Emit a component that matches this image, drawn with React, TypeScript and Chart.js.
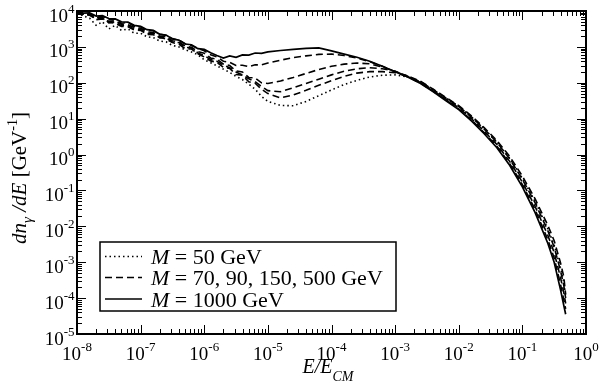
import React, { useEffect, useRef } from "react";
import { Chart, registerables } from "chart.js";

Chart.register(...registerables);

// E / E_CM sample positions
const energyFraction = [
  1e-8, 1.26e-8, 1.58e-8, 2e-8, 2.51e-8, 3.16e-8, 3.98e-8, 5.01e-8, 6.31e-8, 7.94e-8,
  1e-7, 1.26e-7, 1.58e-7, 2e-7, 2.51e-7, 3.16e-7, 3.98e-7, 5.01e-7, 6.31e-7, 7.94e-7,
  1e-6, 1.26e-6, 1.58e-6, 2e-6, 2.51e-6, 3.16e-6, 3.98e-6, 5.01e-6, 6.31e-6, 7.94e-6,
  1e-5, 1.58e-5, 2.51e-5, 3.98e-5, 6.31e-5,
  1e-4, 1.58e-4, 2.51e-4, 3.98e-4, 6.31e-4,
  1e-3, 1.58e-3, 2.51e-3, 3.98e-3, 6.31e-3,
  1e-2, 1.58e-2, 2.51e-2, 3.98e-2, 6.31e-2,
  0.1, 0.158, 0.251, 0.316, 0.398, 0.447, 0.479,
];

// dN_gamma/dE [GeV^-1]
const m50 = [
  8910, 7240, 6310, 3980, 5010, 3160, 3980, 2880, 3160, 2400,
  2400, 1910, 1820, 1450, 1380, 1100, 1000, 832, 724, 603,
  437, 363, 295, 240, 195, 151, 123, 91.2, 66.1, 41.7,
  30.2, 23.4, 22.9, 30.2, 43.7,
  63.1, 89.1, 117, 145, 162,
  166, 145, 105, 63.1, 37.2,
  21.9, 11.2, 5.25, 2.24, 0.794,
  0.219, 0.0501, 0.00851, 0.00302, 6.92e-4, 2.82e-4, 1.12e-4,
];
const m70 = [
  9550, 7590, 7940, 5750, 6030, 4900, 4570, 3720, 3630, 2950,
  2880, 2240, 2190, 1860, 1660, 1320, 1200, 891, 871, 646,
  525, 407, 372, 269, 251, 170, 162, 107, 97.7, 66.1,
  50.1, 38.0, 45.7, 61.7, 85.1,
  115, 151, 186, 204, 204,
  191, 155, 110, 66.1, 38.9,
  22.9, 12.0, 5.62, 2.45, 0.891,
  0.251, 0.0589, 0.0107, 0.00398, 9.55e-4, 3.98e-4, 1.26e-4,
];
const m90 = [
  9330, 8320, 7590, 6170, 6310, 4680, 5010, 3890, 3980, 3090,
  3090, 2340, 2400, 1780, 1820, 1350, 1320, 977, 933, 676,
  575, 447, 398, 309, 263, 200, 166, 129, 107, 79.4,
  60.3, 56.2, 72.4, 95.5, 126,
  166, 209, 245, 263, 245,
  209, 151, 107, 64.6, 37.2,
  21.9, 11.2, 5.13, 2.19, 0.759,
  0.204, 0.0457, 0.00759, 0.00263, 5.75e-4, 2.29e-4, 1.0e-4,
];
const m150 = [
  9770, 8130, 8510, 6460, 6610, 5130, 5370, 4270, 4170, 3470,
  3310, 2630, 2510, 1990, 1910, 1480, 1380, 1050, 977, 741,
  661, 490, 457, 331, 302, 214, 200, 141, 135, 100,
  95.5, 112, 141, 182, 234,
  288, 331, 355, 339, 275,
  209, 148, 102, 60.3, 34.7,
  20.0, 10.0, 4.47, 1.91, 0.646,
  0.170, 0.0363, 0.00562, 0.00186, 3.72e-4, 1.45e-4, 7.08e-5,
];
const m500 = [
  9550, 8320, 8130, 6920, 7080, 5750, 5890, 4570, 4790, 3720,
  3630, 2880, 2820, 2290, 2090, 1700, 1550, 1230, 1100, 912,
  776, 603, 525, 400, 372, 302, 309, 280, 316, 316,
  355, 427, 501, 562, 617,
  631, 575, 490, 389, 288,
  204, 145, 97.7, 57.5, 33.1,
  18.6, 9.33, 4.07, 1.70, 0.562,
  0.145, 0.0295, 0.00427, 0.00132, 2.4e-4, 9.12e-5, 5.01e-5,
];
const m1000 = [
  10000, 8700, 8910, 7240, 7410, 6170, 6030, 5010, 4900, 3980,
  3720, 3020, 2880, 2240, 2140, 1660, 1550, 1200, 1150, 891,
  851, 690, 575, 490, 560, 510, 600, 590, 676, 661,
  724, 794, 851, 912, 933,
  776, 631, 513, 398, 288,
  204, 145, 95.5, 56.2, 31.6,
  17.8, 8.71, 3.80, 1.55, 0.501,
  0.126, 0.0245, 0.00339, 0.001, 1.7e-4, 6.31e-5, 3.55e-5,
];

const xMajorTicks = [1e-8, 1e-7, 1e-6, 1e-5, 1e-4, 1e-3, 1e-2, 1e-1, 1];
const xTickExponents = ["-8", "-7", "-6", "-5", "-4", "-3", "-2", "-1", "0"];
const yMajorTicks = [1e4, 1e3, 1e2, 1e1, 1, 1e-1, 1e-2, 1e-3, 1e-4, 1e-5];
const yTickExponents = ["4", "3", "2", "1", "0", "-1", "-2", "-3", "-4", "-5"];
const legendLabels = ["50 GeV", "70, 90, 150, 500 GeV", "1000 GeV"];

const DOTTED = [1.5, 3];
const DASHED = [7, 4];
const SOLID: number[] = [];

const SERIF = '"Liberation Serif", "Times New Roman", Times, serif';
const fnt = (size: number, italic = false) =>
  `${italic ? "italic " : ""}${size}px ${SERIF}`;

type Seg = { t: string; font: string; dy?: number };

function measureSegs(ctx: CanvasRenderingContext2D, segs: Seg[]) {
  let w = 0;
  for (const s of segs) {
    ctx.font = s.font;
    w += ctx.measureText(s.t).width;
  }
  return w;
}

function drawSegs(ctx: CanvasRenderingContext2D, segs: Seg[], x: number, y: number) {
  let cx = x;
  for (const s of segs) {
    ctx.font = s.font;
    ctx.fillText(s.t, cx, y + (s.dy || 0));
    cx += ctx.measureText(s.t).width;
  }
}

const decorations = {
  id: "decorations",
  afterDraw(chart: any) {
    const ctx: CanvasRenderingContext2D = chart.ctx;
    const a = chart.chartArea;
    const xs = chart.scales.x;
    const ys = chart.scales.y;
    ctx.save();
    ctx.fillStyle = "#000";
    ctx.strokeStyle = "#000";
    ctx.textAlign = "left";
    ctx.textBaseline = "alphabetic";
    ctx.setLineDash([]);

    // inward ticks on all four sides
    const majorLen = 9;
    const minorLen = 5;
    ctx.lineWidth = 1;
    ctx.beginPath();
    xMajorTicks.forEach((v, i) => {
      const px = Math.round(xs.getPixelForValue(v)) + 0.5;
      ctx.moveTo(px, a.bottom);
      ctx.lineTo(px, a.bottom - majorLen);
      ctx.moveTo(px, a.top);
      ctx.lineTo(px, a.top + majorLen);
      if (i < xMajorTicks.length - 1) {
        for (let k = 2; k <= 9; k++) {
          const mp = Math.round(xs.getPixelForValue(v * k)) + 0.5;
          ctx.moveTo(mp, a.bottom);
          ctx.lineTo(mp, a.bottom - minorLen);
          ctx.moveTo(mp, a.top);
          ctx.lineTo(mp, a.top + minorLen);
        }
      }
    });
    yMajorTicks.forEach((v, i) => {
      const py = Math.round(ys.getPixelForValue(v)) + 0.5;
      ctx.moveTo(a.left, py);
      ctx.lineTo(a.left + majorLen, py);
      ctx.moveTo(a.right, py);
      ctx.lineTo(a.right - majorLen, py);
      if (i > 0) {
        for (let k = 2; k <= 9; k++) {
          const mp = Math.round(ys.getPixelForValue(v * k)) + 0.5;
          ctx.moveTo(a.left, mp);
          ctx.lineTo(a.left + minorLen, mp);
          ctx.moveTo(a.right, mp);
          ctx.lineTo(a.right - minorLen, mp);
        }
      }
    });
    ctx.stroke();

    // frame
    ctx.lineWidth = 2;
    ctx.strokeRect(a.left, a.top, a.right - a.left, a.bottom - a.top);

    // x tick labels
    xMajorTicks.forEach((v, i) => {
      const px = xs.getPixelForValue(v);
      const segs: Seg[] = [
        { t: "10", font: fnt(19) },
        { t: xTickExponents[i], font: fnt(13), dy: -9 },
      ];
      const w = measureSegs(ctx, segs);
      drawSegs(ctx, segs, px - w / 2, a.bottom + 25.5);
    });

    // y tick labels
    yMajorTicks.forEach((v, i) => {
      const py = ys.getPixelForValue(v);
      const segs: Seg[] = [
        { t: "10", font: fnt(19) },
        { t: yTickExponents[i], font: fnt(13), dy: -9 },
      ];
      const w = measureSegs(ctx, segs);
      drawSegs(ctx, segs, a.left - 2.5 - w, py + 10.5);
    });

    // x axis title
    const xt: Seg[] = [
      { t: "E/E", font: fnt(20, true) },
      { t: "CM", font: fnt(14, true), dy: 8 },
    ];
    const xtw = measureSegs(ctx, xt);
    drawSegs(ctx, xt, 328 - xtw / 2, 373);

    // y axis title
    const yt: Seg[] = [
      { t: "dn", font: fnt(21, true) },
      { t: "\u03B3", font: fnt(15, true), dy: 6 },
      { t: " /dE", font: fnt(21, true) },
      { t: " [GeV", font: fnt(21) },
      { t: "-1", font: fnt(14), dy: -9 },
      { t: "]", font: fnt(21) },
    ];
    const ytw = measureSegs(ctx, yt);
    ctx.save();
    ctx.translate(25.5, 178);
    ctx.rotate(-Math.PI / 2);
    drawSegs(ctx, yt, -ytw / 2, 0);
    ctx.restore();

    // legend
    const bx = 100, by = 242, bw = 296, bh = 69;
    ctx.fillStyle = "#fff";
    ctx.fillRect(bx, by, bw, bh);
    ctx.lineWidth = 1.5;
    ctx.strokeStyle = "#000";
    ctx.strokeRect(bx, by, bw, bh);
    const dashes = [DOTTED, DASHED, SOLID];
    const lineY = [256.5, 277.5, 299];
    const textY = [263.5, 285, 306.5];
    ctx.fillStyle = "#000";
    legendLabels.forEach((lab, i) => {
      ctx.save();
      ctx.setLineDash(dashes[i]);
      ctx.lineWidth = 1.5;
      ctx.beginPath();
      ctx.moveTo(105, lineY[i]);
      ctx.lineTo(142, lineY[i]);
      ctx.stroke();
      ctx.restore();
      drawSegs(
        ctx,
        [
          { t: "M", font: fnt(22, true) },
          { t: " = " + lab, font: fnt(22) },
        ],
        151,
        textY[i]
      );
    });

    ctx.restore();
  },
};

function series(values: number[], dash: number[], width: number) {
  return {
    data: energyFraction.map((x, i) => ({ x, y: values[i] })),
    showLine: true,
    borderColor: "#000",
    backgroundColor: "#000",
    borderWidth: width,
    borderDash: dash,
    pointRadius: 0,
    fill: false,
    tension: 0,
  };
}

export default function App() {
  const ref = useRef<HTMLCanvasElement | null>(null);
  useEffect(() => {
    if (!ref.current) return;
    const chart = new Chart(ref.current, {
      type: "scatter",
      data: {
        datasets: [
          series(m50, DOTTED, 1.6),
          series(m70, DASHED, 1.6),
          series(m90, DASHED, 1.6),
          series(m150, DASHED, 1.6),
          series(m500, DASHED, 1.6),
          series(m1000, SOLID, 1.7),
        ] as any,
      },
      options: {
        animation: false,
        responsive: false,
        devicePixelRatio: 1,
        layout: { padding: { left: 77, right: 13, top: 11, bottom: 56 } },
        plugins: { legend: { display: false }, tooltip: { enabled: false } },
        scales: {
          x: { type: "logarithmic", min: 1e-8, max: 1, display: false },
          y: { type: "logarithmic", min: 1e-5, max: 1e4, display: false },
        },
      } as any,
      plugins: [decorations],
    });
    return () => chart.destroy();
  }, []);
  return (
    <div
      style={{
        position: "fixed",
        left: 0,
        top: 0,
        width: 599,
        height: 390,
        background: "#fff",
      }}
    >
      <canvas ref={ref} width={599} height={390} style={{ display: "block" }} />
    </div>
  );
}
